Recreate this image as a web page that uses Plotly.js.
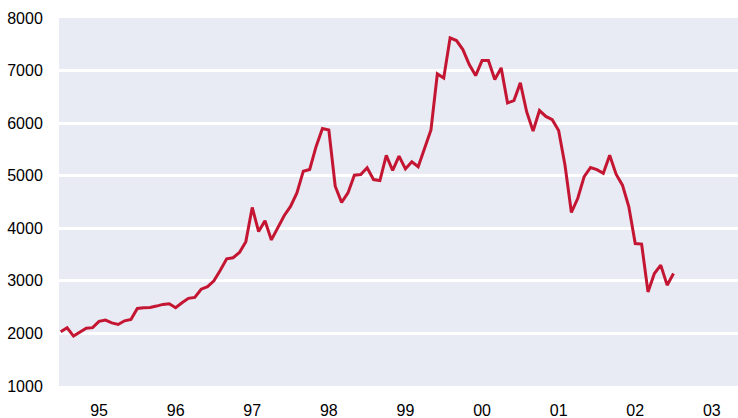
<!DOCTYPE html>
<html>
<head>
<meta charset="utf-8">
<script src="https://cdn.plot.ly/plotly-3.0.1.min.js"></script>
<style>html,body{margin:0;padding:0;background:#fff;}#chart{width:738px;height:418px;}</style>
</head>
<body>
<div id="chart"></div>
<script>
// Monthly values, Jan 1995 .. Jan 2003
const startYear = 1995;
const values = [
  2030, 2107, 1950, 2030, 2100, 2110, 2230, 2253, 2200, 2170, 2240, 2267,
  2476, 2488, 2495, 2520, 2552, 2564, 2488, 2583, 2667, 2686, 2841, 2890,
  3000, 3200, 3420, 3440, 3540, 3746, 4397, 3938, 4143, 3779, 4003, 4238,
  4416, 4673, 5086, 5119, 5553, 5897, 5870, 4800, 4493, 4673, 5010, 5023,
  5151, 4927, 4908, 5387, 5100, 5373, 5130, 5266, 5170, 5534, 5870, 6937,
  6860, 7623, 7571, 7400, 7114, 6905, 7190, 7190, 6829, 7051, 6385, 6429,
  6766, 6213, 5850, 6240, 6128, 6065, 5860, 5200, 4300, 4571, 4983, 5157,
  5115, 5046, 5390, 5030, 4820, 4410, 3710, 3700, 2790, 3140, 3300, 2918,
  3140
];
const yearLabels = ['95','96','97','98','99','00','01','02','03'];
const yTicks = [1000, 2000, 3000, 4000, 5000, 6000, 7000, 8000];

// x: months since Jan 1995
const months = values.map((v, i) => i);
// year labels placed at mid-year (July)
const yearTickPos = yearLabels.map((t, k) => k * 12 + 6);

const trace = {
  x: months,
  y: values,
  type: 'scatter',
  mode: 'lines',
  line: {color: '#c41632', width: 3},
  hoverinfo: 'skip'
};

const layout = {
  width: 738,
  height: 418,
  margin: {l: 59, r: 0, t: 18, b: 32},
  paper_bgcolor: '#ffffff',
  plot_bgcolor: '#e8eaf4',
  showlegend: false,
  font: {family: 'Liberation Sans, Arial, sans-serif', size: 16, color: '#000'},
  xaxis: {
    range: [-0.27, 106.1],
    tickmode: 'array',
    tickvals: yearTickPos,
    ticktext: yearLabels,
    showgrid: false,
    zeroline: false,
    showline: false,
    ticks: 'outside',
    ticklen: 10,
    tickcolor: 'rgba(0,0,0,0)',
    tickfont: {size: 16, color: '#000'}
  },
  yaxis: {
    range: [1000, 8000],
    tickmode: 'array',
    tickvals: yTicks,
    ticktext: yTicks.map(String),
    showgrid: true,
    gridcolor: '#ffffff',
    gridwidth: 3,
    zeroline: false,
    showline: false,
    ticks: 'outside',
    ticklen: 12,
    tickcolor: 'rgba(0,0,0,0)',
    tickfont: {size: 16, color: '#000'}
  }
};

Plotly.newPlot('chart', [trace], layout, {staticPlot: true, displayModeBar: false});
</script>
</body>
</html>
